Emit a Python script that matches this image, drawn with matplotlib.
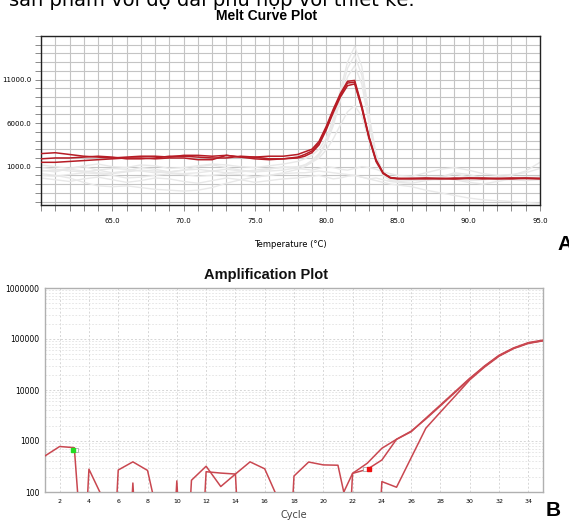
import numpy as np
import matplotlib
matplotlib.use("Agg")
from matplotlib import pyplot as plt
from matplotlib.ticker import MultipleLocator, FixedLocator, FuncFormatter

# ---- melt curve data (temperature in degC, derivative reporter) ----
temps = [60, 61, 62, 63, 64, 65, 66, 67, 68, 69, 70, 71, 72, 73, 74, 75, 76, 77, 78,
         78.5, 79, 79.5, 80, 80.5, 81, 81.5, 82, 82.5, 83, 83.5, 84, 84.5, 85,
         86, 87, 88, 89, 90, 91, 92, 93, 94, 95]

red_1 = [2500, 2600, 2400, 2200, 2100, 2000, 2100, 2200, 2200, 2100, 2300, 2300, 2200, 2300, 2100, 2100, 2200, 2200, 2400,
         2700, 3000, 3900, 5600, 7600, 9400, 10800, 10900, 8000, 4500, 1800, 300, -250, -350,
         -350, -400, -350, -400, -300, -350, -350, -400, -350, -350]
red_2 = [1900, 2000, 2000, 2100, 2200, 2100, 1900, 1900, 2000, 2200, 2200, 2100, 2000, 2000, 2200, 2100, 1900, 1900, 2000,
         2200, 2600, 3500, 5200, 7200, 9000, 10300, 10500, 7700, 4300, 1700, 250, -250, -350,
         -400, -350, -400, -300, -350, -400, -350, -300, -350, -400]
red_3 = [1500, 1500, 1600, 1700, 1800, 1900, 2000, 2000, 1900, 2000, 2000, 1800, 1800, 2300, 2100, 1900, 1800, 1900, 2100,
         2400, 2800, 3700, 5400, 7400, 9200, 10600, 10700, 7800, 4400, 1600, 200, -300, -400,
         -350, -300, -350, -400, -350, -300, -400, -350, -300, -350]

gray_1 = [1200, 1000, 800, 1100, 1300, 1000, 900, 1200, 1100, 800, 900, 1100, 1300, 1200, 1000, 900, 1100, 1300, 1600,
          1900, 2300, 3000, 4200, 6500, 9800, 13000, 14800, 12500, 7000, 2500, 200, -400, -500,
          -300, -200, -400, -300, -200, -300, -200, 0, 500, 1500]
gray_2 = [500, 600, 700, 500, 300, 200, 400, 600, 500, 300, 200, 300, 500, 700, 500, 400, 500, 600, 900,
          1200, 1700, 2500, 3800, 6000, 9200, 12300, 13800, 11500, 6500, 2200, 100, -500, -500,
          -500, -400, -300, 200, -200, -400, -500, -300, -200, -300]
gray_3 = [0, -100, 100, 300, 200, 0, -300, -200, 0, 200, 100, -100, 0, 200, 100, -200, 0, 300, 700,
          1000, 1500, 2300, 3600, 5700, 8600, 11300, 12600, 10500, 6000, 2000, 0, -600, -700,
          -600, -500, -500, -400, -600, -500, -400, -500, -600, -500]
gray_4 = [900, 700, 500, 400, 600, 800, 700, 500, 300, 400, 600, 700, 500, 300, 400, 600, 800, 900, 1000,
          1200, 1500, 2000, 2900, 4200, 5800, 7300, 8000, 6800, 4000, 1500, 0, -400, -400,
          -300, -300, -200, 300, 100, -300, -400, -300, -300, -200]
gray_5 = [200, 0, -300, -800, -1200, -1300, -1200, -1400, -1600, -1700, -1800, -1700, -1400, -900, -500, -200, 0, 200, 300,
          300, 400, 500, 400, 300, 200, 100, 0, -200, -400, -600, -800, -1000, -1100,
          -1300, -1700, -2000, -2300, -2600, -2800, -2900, -3000, -3100, -3200]
gray_6 = [600, 400, 800, 1000, 600, 300, 500, 900, 700, 400, 600, 1000, 1200, 900, 600, 400, 700, 1000, 800,
          700, 600, 800, 1000, 900, 700, 600, 800, 1000, 900, 700, 400, 200, 0,
          -100, 300, 700, 900, 600, 200, 0, 100, 300, 800]
gray_7 = [-300, -500, -700, -400, -200, -500, -800, -600, -300, -400, -700, -900, -600, -300, -500, -800, -600, -400, -300,
          -200, -100, 0, -200, -400, -300, -100, 0, -200, -400, -300, -500, -700, -800,
          -900, -600, -300, -500, -800, -1000, -700, -400, -300, -200]

melt_red = [red_1, red_2, red_3]
melt_gray = [gray_1, gray_2, gray_3, gray_4, gray_5, gray_6, gray_7]
melt_xlabels = [65, 70, 75, 80, 85, 90, 95]
melt_ylabels = [1000, 6000, 11000]

# ---- amplification data (cycle vs delta Rn, log) ----
cycles = list(range(1, 36))
well_a = [510, 780, 740, 0.1, 0.001, 270, 390, 265, 14, 0.001,
          170, 320, 128, 225, 390, 285, 64, 0.001, 0.001, 0.001,
          0.001, 232, 366, 720, 1080, 1520, 2800, 5100, 9300, 17000,
          29000, 47000, 66000, 83000, 93000]
well_b = [0.001, 0.001, 0.001, 280, 70, 0.001, 150, 0.001, 0.001, 165,
          0.001, 250, 235, 225, 0.001, 0.001, 0.001, 206, 387, 340,
          335, 16, 0.001, 160, 124, 470, 1780, 3700, 7600, 15800,
          28000, 46000, 65000, 82000, 92000]
well_c = [0.001, 0.001, 0.001, 0.001, 0.001, 0.001, 0.001, 0.001, 0.001, 0.001,
          0.001, 0.001, 0.001, 0.001, 0.001, 0.001, 0.001, 0.001, 0.001, 0.001,
          57, 232, 278, 424, 1080, 1560, 2700, 4900, 9000, 16500,
          29500, 48000, 67000, 85000, 95000]
amp_wells = [well_a, well_b, well_c]
ct_marks = [(2.9, 665, '#22dd22'), (23.1, 283, '#ee1111')]

plt.rcParams['font.family'] = ['DejaVu Sans']
fig = plt.figure(figsize=(5.69, 5.23), dpi=100)

# cut-off caption text from the page above (only its lower half shows)
fig.text(0.728, 1 - 5.5 / 523, "sản phẩm với độ dài phù hợp với thiết kế.",
         ha='right', va='baseline', fontsize=14, color='black')

# ---------------- A: melt curve ----------------
ax1 = fig.add_axes([41 / 569, 1 - 205 / 523, 499 / 569, 169 / 523])
for g in melt_gray:
    ax1.plot(temps, g, color='#e8e8e8', lw=1.0, zorder=2)
for r in melt_red:
    ax1.plot(temps, r, color='#b71c25', lw=1.1, zorder=3)
ax1.set_xlim(60, 95)
ax1.set_ylim(-3400, 16000)
ax1.xaxis.set_major_locator(FixedLocator(melt_xlabels))
ax1.xaxis.set_minor_locator(MultipleLocator(1))
ax1.yaxis.set_major_locator(FixedLocator(melt_ylabels))
ax1.yaxis.set_minor_locator(MultipleLocator(1000))
ax1.xaxis.set_major_formatter(FuncFormatter(lambda v, p: "%.1f" % v))
ax1.yaxis.set_major_formatter(FuncFormatter(lambda v, p: "%.1f" % v))
ax1.grid(True, which='both', color='#c4c4c4', lw=0.8, zorder=0)
ax1.set_axisbelow(True)
ax1.tick_params(which='both', length=4, width=0.6, color='#777777', labelsize=5, pad=3)
ax1.tick_params(axis='x', which='both', length=4, pad=5)
for s in ax1.spines.values():
    s.set_color('#222222')
    s.set_linewidth(1.0)
ax1.set_xlabel("Temperature (°C)", fontsize=6, labelpad=12)
fig.text(267 / 569, 1 - 16 / 523, "Melt Curve Plot", ha='center', va='center',
         fontsize=10, fontweight='bold', family='Liberation Sans')
fig.text(557 / 569, 1 - 244 / 523, "A", ha='left', va='center',
         fontsize=15, fontweight='bold', family='Liberation Sans')

# ---------------- B: amplification ----------------
ax2 = fig.add_axes([45 / 569, 1 - 492 / 523, 498 / 569, 204 / 523])
for w in amp_wells:
    ax2.plot(cycles, w, color='#c94750', lw=1.1, zorder=3)
for cx, cy, cc in ct_marks:
    ax2.plot([cx + 0.25 if cc == '#22dd22' else cx - 0.25], [cy], marker='s', ms=3.2,
             mfc='white', mec='#999999', mew=0.5, zorder=4)
    ax2.plot([cx], [cy], marker='s', ms=3.5, color=cc, mec=cc, zorder=5)
ax2.set_yscale('log')
ax2.set_xlim(1, 35)
ax2.set_ylim(100, 1000000)
ax2.xaxis.set_major_locator(MultipleLocator(2))
ax2.yaxis.set_major_formatter(FuncFormatter(lambda v, p: "%d" % round(v)))
ax2.grid(True, which='major', color='#d6d6d6', lw=0.7, ls=(0, (2, 2)))
ax2.grid(True, which='minor', axis='y', color='#e2e2e2', lw=0.6, ls=(0, (2, 2)))
ax2.set_axisbelow(True)
ax2.tick_params(which='both', length=0, labelsize=5.5, pad=4)
ax2.tick_params(axis='x', labelsize=4.5, pad=5)
for s in ax2.spines.values():
    s.set_color('#b0b0b0')
    s.set_linewidth(1.0)
ax2.set_xlabel("Cycle", fontsize=7, color='#444444', labelpad=4)
fig.text(266 / 569, 1 - 275 / 523, "Amplification Plot", ha='center', va='center',
         fontsize=10.5, fontweight='bold', family='Liberation Sans', color='#111111')
fig.text(546 / 569, 1 - 511 / 523, "B", ha='left', va='center',
         fontsize=15, fontweight='bold', family='Liberation Sans')

plt.savefig('out.png', dpi=100)
